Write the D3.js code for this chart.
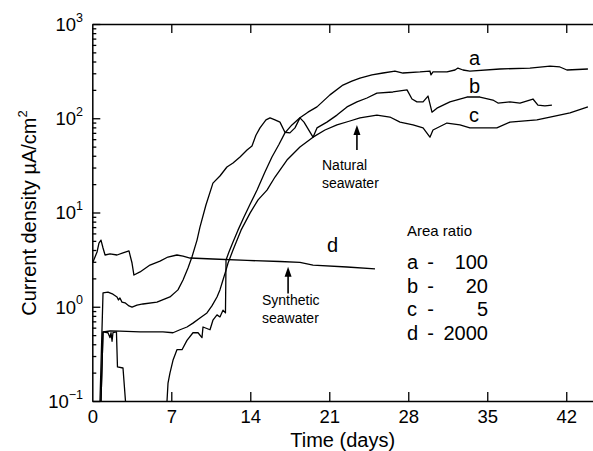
<!DOCTYPE html>
<html><head><meta charset="utf-8">
<script src="https://cdn.jsdelivr.net/npm/d3@7"></script>
<style>
body{margin:0;background:#fff}
svg{display:block}
text{font-family:"Liberation Sans",Arial,Helvetica,sans-serif;fill:#000}
</style>
</head><body>
<svg id="chart" width="593" height="451"></svg>
<script>
// ---- data ----
const xTicks = [0, 7, 14, 21, 28, 35, 42];
const yTicks = [0.1, 1, 10, 100, 1000];
const yTickExp = ["\u22121", "0", "1", "2", "3"];
const legendLetters = ["a", "b", "c", "d"];
const legendRatios = ["100", "20", "5", "2000"];

// [day, current density µA/cm²]
const curveA = [[0.77,0.1],[0.95,0.54],[1.39,0.53],[1.57,0.47],[1.66,0.53],[1.75,0.43],[1.83,0.53],[2.14,0.54],[2.23,0.23],[2.72,0.224],[2.94,0.1],[3.0,0.05],
  [6.53,0.05],[6.62,0.1],[6.71,0.155],[6.88,0.198],[7.15,0.27],[7.5,0.35],[7.95,0.35],[8.39,0.44],[8.92,0.53],[9.37,0.53],[9.72,0.47],[9.81,0.61],[10.43,0.57],
  [10.69,0.72],[11.05,0.82],[11.31,0.78],[11.58,0.92],[11.8,0.86],[11.85,3.13],[12.11,3.81],[12.47,4.86],[12.91,6.5],[13.44,8.95],[13.99,12.3],[14.6,17.3],
  [15.3,26.9],[15.92,38.8],[16.55,53],[17.07,70],[17.69,85],[18.4,101],[19.11,116],[19.91,132],[21.06,177],[22.21,225],[23.0,248],[23.72,267],[24.78,288],
  [25.76,302],[26.82,317],[27.53,302],[29.04,310],[29.92,317],[30.01,288],[30.19,310],[31.43,310],[32.14,325],[32.4,341],[32.85,325],[33.46,317],[36.12,333],
  [38.78,341],[40.56,358],[41.44,350],[42.06,325],[43.92,333]];
const curveB = [[0.68,0.1],[0.95,1.40],[1.39,1.43],[1.83,1.36],[2.19,1.27],[2.32,1.18],[2.45,1.24],[2.63,1.12],[2.9,1.10],[3.25,1.02],[3.52,0.99],[3.96,1.04],
  [4.49,1.07],[5.73,1.12],[6.88,1.27],[7.59,1.51],[8.04,1.92],[8.48,2.58],[8.83,3.37],[9.28,5.1],[9.54,7.0],[10.07,12.0],[10.69,20.5],[11.31,24.4],[11.93,30.4],
  [12.47,33.5],[13.09,38.8],[13.71,46],[14.15,50.8],[14.5,66],[14.86,79],[15.39,96],[15.75,101],[16.19,96],[16.63,91],[17.07,71],[17.51,70],[17.96,79],[18.4,101],
  [18.76,91],[19.56,63],[19.91,79],[20.79,91],[21.68,108],[22.57,132],[23.45,149],[24.34,164],[25.22,185],[26.64,190],[27.89,200],[28.33,160],[28.77,149],
  [29.31,149],[29.75,172],[29.92,142],[30.1,116],[30.54,128],[31.69,149],[33.2,168],[34.35,168],[35.5,156],[35.95,145],[37.01,149],[37.9,145],[39.05,160],
  [39.49,138],[40.11,135],[40.73,138]];
const curveC = [[0.77,0.1],[0.95,0.54],[1.57,0.553],[2.45,0.55],[4.23,0.54],[6.26,0.54],[7.15,0.53],[7.77,0.57],[8.39,0.61],[8.92,0.67],[9.54,0.76],[10.16,0.86],
  [10.6,1.02],[11.05,1.27],[11.31,1.51],[11.58,1.92],[11.85,2.45],[12.03,2.91],[12.47,4.0],[13.18,6.5],[13.99,9.9],[14.69,13.6],[15.48,17.3],[16.19,23.8],[17.25,36],
  [18.4,49.5],[19.56,63],[20.62,75],[21.68,85],[22.83,93.5],[23.72,101],[25.22,108],[26.37,103],[27.27,91],[28.42,85],[29.31,79],[29.92,63],[30.19,75],[31.43,89],
  [32.58,85],[33.46,79],[35.85,79],[37.01,91],[39.4,96],[40.56,103],[42.33,114],[43.92,132]];
const curveD = [[0.06,2.99],[0.42,3.81],[0.59,4.74],[0.77,5.1],[0.95,4.2],[1.13,3.54],[1.57,3.63],[2.19,3.54],[2.72,3.72],[3.25,3.91],[3.52,2.91],[3.69,2.17],
  [4.23,2.34],[5.11,2.77],[6.0,3.05],[6.7,3.37],[7.5,3.54],[8.04,3.45],[8.66,3.29],[10.69,3.21],[13.71,3.10],[16.63,3.02],[18.4,2.95],[19.56,2.77],[22.57,2.64],[25.05,2.52]];

// annotation anchors (data units)
const naturalArrow = {day: 23.45, from: 46, to: 85};
const syntheticArrow = {day: 17.35, from: 1.38, to: 2.65};

// ---- layout ----
const svg = d3.select("#chart");
const L = 92.3, R = 593, T = 24, B = 401;
const x = d3.scaleLinear().domain([0, 44.37]).range([L, R]);
const y = d3.scaleLog().domain([0.1, 1000]).range([B, T]);

svg.append("defs").append("clipPath").attr("id", "clip")
  .append("rect").attr("x", L).attr("y", T).attr("width", R - L).attr("height", B - T);

const line = d3.line().x(d => x(d[0])).y(d => y(d[1]));
const plot = svg.append("g").attr("clip-path", "url(#clip)");
[curveA, curveB, curveC, curveD].forEach(c => {
  plot.append("path").datum(c).attr("d", line)
    .attr("fill", "none").attr("stroke", "#000").attr("stroke-width", 1.3).attr("stroke-linejoin", "round");
});

// ---- axes ----
function styleAxis(g) {
  g.selectAll("path.domain").attr("stroke", "#000").attr("stroke-width", 1.5);
  g.selectAll(".tick line").attr("stroke", "#000").attr("stroke-width", 1.3);
}
const xb = svg.append("g").attr("transform", `translate(0,${B})`)
  .call(d3.axisBottom(x).tickValues(xTicks).tickSize(-9).tickSizeOuter(0).tickPadding(9).tickFormat(d3.format("d")));
xb.selectAll("text").attr("font-size", 18.5).attr("fill", "#000");
xb.select(".tick line").remove();
styleAxis(xb);
xb.selectAll(".tick").filter(d => d === 0).select("line").remove();

const xt = svg.append("g").attr("transform", `translate(0,${T})`)
  .call(d3.axisTop(x).tickValues(xTicks.filter(d => d > 0)).tickSize(-9).tickSizeOuter(0).tickFormat(""));
styleAxis(xt);

const minor = [];
for (let e = -1; e < 3; e++) for (let k = 2; k <= 9; k++) minor.push(k * Math.pow(10, e));
const ym = svg.append("g").attr("transform", `translate(${L},0)`)
  .call(d3.axisLeft(y).tickValues(minor).tickSize(-4).tickSizeOuter(0).tickFormat(""));
styleAxis(ym);
ym.select("path.domain").remove();

const yl = svg.append("g").attr("transform", `translate(${L},0)`)
  .call(d3.axisLeft(y).tickValues(yTicks).tickSize(-8).tickSizeOuter(0).tickFormat(""));
styleAxis(yl);
yl.selectAll(".tick").each(function(d, i) {
  const t = d3.select(this).append("text").attr("x", -9.3).attr("y", 0).attr("dy", "0.35em")
    .attr("text-anchor", "end").attr("font-size", 18.5);
  t.append("tspan").text("10");
  t.append("tspan").attr("font-size", 12.5).attr("dy", "-0.75em").text(yTickExp[i]);
});

// axis titles
svg.append("text").attr("x", (L + R) / 2).attr("y", 447).attr("text-anchor", "middle")
  .attr("font-size", 20).text("Time (days)");
const yt = svg.append("text").attr("transform", "translate(36,213) rotate(-90)")
  .attr("text-anchor", "middle").attr("font-size", 20);
yt.append("tspan").text("Current density \u00b5A/cm");
yt.append("tspan").attr("font-size", 13).attr("dy", -9).text("2");

// ---- curve labels ----
[["a", 65], ["b", 93], ["c", 122]].forEach(([s, yy]) =>
  svg.append("text").attr("x", 469).attr("y", yy).attr("font-size", 20).text(s));
svg.append("text").attr("x", 327).attr("y", 252).attr("font-size", 20).text("d");

// ---- annotations ----
function arrow(day, v0, v1) {
  const xx = x(day), y0 = y(v0), y1 = y(v1);
  svg.append("line").attr("x1", xx).attr("x2", xx).attr("y1", y0).attr("y2", y1 + 6)
    .attr("stroke", "#000").attr("stroke-width", 1.6);
  svg.append("path").attr("d", `M${xx},${y1}L${xx - 3.5},${y1 + 10}L${xx + 3.5},${y1 + 10}Z`).attr("fill", "#000");
}
arrow(naturalArrow.day, naturalArrow.from, naturalArrow.to);
arrow(syntheticArrow.day, syntheticArrow.from, syntheticArrow.to);
svg.append("text").attr("x", 322).attr("y", 170).attr("font-size", 14).text("Natural");
svg.append("text").attr("x", 322).attr("y", 188).attr("font-size", 14).text("seawater");
svg.append("text").attr("x", 262).attr("y", 305).attr("font-size", 14).text("Synthetic");
svg.append("text").attr("x", 262).attr("y", 323).attr("font-size", 14).text("seawater");

// ---- legend ----
svg.append("text").attr("x", 407).attr("y", 236).attr("font-size", 15).text("Area ratio");
legendLetters.forEach((s, i) => {
  const yy = 269 + i * 23.7;
  svg.append("text").attr("x", 407).attr("y", yy).attr("font-size", 20).text(s);
  svg.append("text").attr("x", 430.5).attr("y", yy).attr("font-size", 20).attr("text-anchor", "middle").text("-");
  svg.append("text").attr("x", 488).attr("y", yy).attr("font-size", 20).attr("text-anchor", "end").text(legendRatios[i]);
});
</script>
</body></html>
